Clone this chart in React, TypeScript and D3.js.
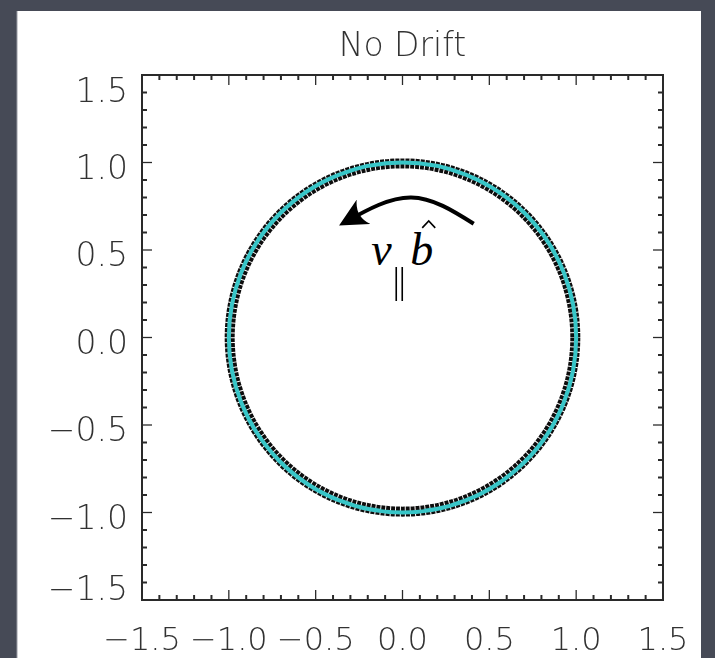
import React from "react";
import * as d3 from "d3";

const W = 715;
const H = 658;

const titleText = "No Drift";
const xDomain = [-1.5, 1.5];
const yDomain = [-1.5, 1.5];
const majorTicks = [-1.5, -1.0, -0.5, 0.0, 0.5, 1.0, 1.5];
const tickLabels = ["\u22121.5", "\u22121.0", "\u22120.5", "0.0", "0.5", "1.0", "1.5"];

// orbit (particle gyration, black scatter band and cyan fit)
const orbitCenter = [0.0, 0.0];
const orbitRadiusBlack = [0.995];
const orbitRadiusCyan = [1.0];

// annotation arrow (data coords)
const arrowX = [0.41, 0.05, -0.33];
const arrowY = [0.65, 0.80, 0.66];
const labelPos = [-0.18, 0.415];

export default function App() {
  const x = d3.scaleLinear().domain(xDomain).range([142, 663]);
  const y = d3.scaleLinear().domain(yDomain).range([600, 75]);
  const minor = x.ticks(30);

  const font = "'DejaVu Sans', sans-serif";
  const fs = 33;
  const axisCol = "#2b2b2b";

  const arrowLine = d3
    .line<number>()
    .x((d, i) => x(arrowX[i]))
    .y((d, i) => y(arrowY[i]))
    .curve(d3.curveNatural);

  const rxB = x(orbitRadiusBlack[0]) - x(0);
  const ryB = y(0) - y(orbitRadiusBlack[0]);
  const rxC = x(orbitRadiusCyan[0]) - x(0);
  const ryC = y(0) - y(orbitRadiusCyan[0]);

  const lx = x(labelPos[0]);
  const ly = y(labelPos[1]);

  const yLabelDy = (v: number) => (v === 1.5 ? 15 : v === -1.5 ? -12 : 4.5);

  return (
    <div style={{ position: "fixed", left: 0, top: 0 }}>
      <svg width={W} height={H} style={{ display: "block" }}>
        <defs>
          <filter id="soft" x="-5%" y="-5%" width="110%" height="110%">
            <feGaussianBlur stdDeviation="0.55" />
          </filter>
          <marker
            id="head"
            viewBox="0 0 20 20"
            refX="15"
            refY="10"
            markerWidth="7"
            markerHeight="7"
            markerUnits="strokeWidth"
            orient="auto"
          >
            <path d="M20,10 L0,0 Q7,10 0,20 Z" fill="#000" />
          </marker>
        </defs>
        <rect x={0} y={0} width={W} height={H} fill="#464a56" />
        <rect x={17} y={11} width={684} height={H - 11} fill="#ffffff" />
        <line x1={17} y1={11} x2={17} y2={H} stroke="#9a9ca4" strokeWidth={1} />

        <g filter="url(#soft)">
          {/* title */}
          <text
            x={(x(-1.5) + x(1.5)) / 2}
            y={56}
            textAnchor="middle"
            fontFamily={font}
            fontWeight={200}
            fontSize={fs}
            fill="#333"
          >
            {titleText}
          </text>

          {/* frame */}
          <rect
            x={x(-1.5)}
            y={y(1.5)}
            width={x(1.5) - x(-1.5)}
            height={y(-1.5) - y(1.5)}
            fill="none"
            stroke={axisCol}
            strokeWidth={2}
          />

          {/* minor + major ticks on all four sides */}
          {minor.map((v, i) => {
            const isMajor = majorTicks.some((m) => Math.abs(m - v) < 1e-9);
            const len = isMajor ? 10 : 5;
            return (
              <g key={"t" + i} stroke={axisCol} strokeWidth={isMajor ? 1.3 : 2}>
                <line x1={x(v)} x2={x(v)} y1={y(-1.5)} y2={y(-1.5) - len} />
                <line x1={x(v)} x2={x(v)} y1={y(1.5)} y2={y(1.5) + len} />
                <line x1={x(-1.5)} x2={x(-1.5) + len} y1={y(v)} y2={y(v)} />
                <line x1={x(1.5)} x2={x(1.5) - len} y1={y(v)} y2={y(v)} />
              </g>
            );
          })}

          {/* x labels */}
          {majorTicks.map((v, i) => (
            <text
              key={"xl" + i}
              x={x(v)}
              y={650}
              textAnchor="middle"
              fontFamily={font}
              fontWeight={200}
              fontSize={32}
              fill="#333"
            >
              {tickLabels[i]}
            </text>
          ))}

          {/* y labels */}
          {majorTicks.map((v, i) => (
            <text
              key={"yl" + i}
              x={128}
              y={y(v) + yLabelDy(v)}
              dy="0.36em"
              textAnchor="end"
              fontFamily={font}
              fontWeight={200}
              fontSize={fs}
              fill="#333"
            >
              {tickLabels[i]}
            </text>
          ))}

          {/* orbit */}
          <ellipse
            cx={x(orbitCenter[0])}
            cy={y(orbitCenter[1])}
            rx={rxB}
            ry={ryB}
            fill="none"
            stroke="#111"
            strokeWidth={10}
            strokeDasharray="4 1"
          />
          <ellipse
            cx={x(orbitCenter[0])}
            cy={y(orbitCenter[1])}
            rx={rxC}
            ry={ryC}
            fill="none"
            stroke="#38c6c8"
            strokeWidth={4}
          />
        </g>

        {/* arrow */}
        <path
          d={arrowLine(arrowX) || ""}
          fill="none"
          stroke="#000"
          strokeWidth={4}
          markerEnd="url(#head)"
        />

        {/* math label v_parallel b-hat */}
        <g fontFamily="'Liberation Serif', 'DejaVu Serif', serif" fill="#000">
          <text x={lx} y={ly} fontSize={46} fontStyle="italic">
            v
          </text>
          <path
            d={`M${lx + 25},${ly + 2} L${lx + 25},${ly + 36} M${lx + 31},${ly + 2} L${lx + 31},${ly + 36}`}
            fill="none"
            stroke="#000"
            strokeWidth={1.6}
          />
          <text x={lx + 39} y={ly} fontSize={46} fontStyle="italic">
            b
          </text>
          <path
            d={`M${lx + 51},${ly - 37} L${lx + 57.5},${ly - 44} L${lx + 64},${ly - 37}`}
            fill="none"
            stroke="#000"
            strokeWidth={1.6}
          />
        </g>
      </svg>
    </div>
  );
}
